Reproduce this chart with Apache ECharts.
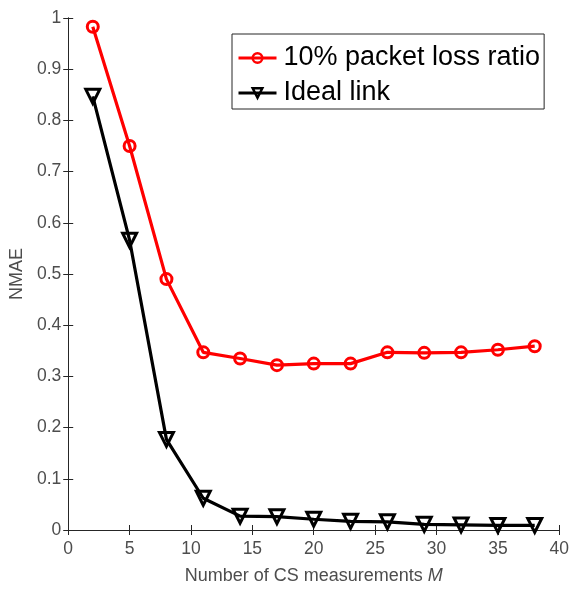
<!DOCTYPE html>
<html><head><meta charset="utf-8">
<script src="https://cdn.jsdelivr.net/npm/echarts@6/dist/echarts.min.js"></script>
<style>html,body{margin:0;padding:0;background:#fff}#c{width:572px;height:590px}</style>
</head><body><div id="c"></div>
<script>
const mValues = [2, 5, 8, 11, 14, 17, 20, 23, 26, 29, 32, 35, 38];
const loss10 = [0.983, 0.750, 0.490, 0.347, 0.335, 0.322, 0.325, 0.325, 0.347, 0.346, 0.347, 0.352, 0.359];
const ideal = [0.847, 0.566, 0.177, 0.062, 0.027, 0.026, 0.021, 0.017, 0.016, 0.011, 0.010, 0.009, 0.009];
const seriesNames = ['10% packet loss ratio', 'Ideal link'];
const xTicks = [0, 5, 10, 15, 20, 25, 30, 35, 40];

const font = 'Liberation Sans, Arial, sans-serif';
const gray = '#4d4d4d';
const chart = echarts.init(document.getElementById('c'));
const axisLine = {show: true, lineStyle: {color: '#262626', width: 1}};
const axisTick = {show: true, inside: true, length: 5, lineStyle: {color: '#262626'}};
chart.setOption({
  animation: false,
  backgroundColor: '#fff',
  grid: {left: 68, right: 8, top: 18, bottom: 55},
  legend: {
    data: seriesNames,
    orient: 'vertical',
    left: 232, top: 34,
    itemWidth: 38, itemHeight: 12, itemGap: 5,
    padding: [9, 4, 1, 5],
    borderColor: '#262626', borderWidth: 1,
    backgroundColor: '#fff',
    lineStyle: {width: 3},
    itemStyle: {borderWidth: 2.5},
    textStyle: {fontFamily: font, fontSize: 27, color: '#000', lineHeight: 30, padding: [0, 0, 0, 2]}
  },
  xAxis: [{
    type: 'value', min: 0, max: 40, interval: 5,
    axisLine: axisLine, axisTick: axisTick, splitLine: {show: false},
    axisLabel: {color: gray, fontFamily: font, fontSize: 17.5, margin: 10, customValues: xTicks},
    name: 'Number of CS measurements {i|M}', nameLocation: 'middle', nameGap: 37,
    nameTextStyle: {color: gray, fontFamily: font, fontSize: 18,
      rich: {i: {fontStyle: 'italic', color: gray, fontFamily: font, fontSize: 18}}}
  }, {
    type: 'value', position: 'top', min: 0, max: 40, interval: 5,
    axisLine: axisLine, axisTick: axisTick, axisLabel: {show: false}, splitLine: {show: false}
  }],
  yAxis: [{
    type: 'value', min: 0, max: 1, interval: 0.1,
    axisLine: axisLine, axisTick: axisTick, splitLine: {show: false},
    axisLabel: {color: gray, fontFamily: font, fontSize: 17.5, margin: 7,
      formatter: v => (Math.round(v * 10) / 10).toString()},
    name: 'NMAE', nameLocation: 'middle', nameGap: 34,
    nameTextStyle: {color: gray, fontFamily: font, fontSize: 18}
  }, {
    type: 'value', position: 'right', min: 0, max: 1, interval: 0.1,
    axisLine: axisLine, axisTick: axisTick, axisLabel: {show: false}, splitLine: {show: false}
  }],
  series: [{
    name: seriesNames[0], type: 'line',
    data: mValues.map((m, i) => [m, loss10[i]]),
    symbol: 'circle', symbolSize: 11,
    lineStyle: {color: '#ff0000', width: 3.2},
    itemStyle: {color: 'rgba(255,255,255,0)', borderColor: '#ff0000', borderWidth: 3},
    color: '#ff0000', z: 3
  }, {
    name: seriesNames[1], type: 'line',
    data: mValues.map((m, i) => [m, ideal[i]]),
    symbol: 'triangle', symbolSize: 14, symbolRotate: 180,
    lineStyle: {color: '#000', width: 3.2},
    itemStyle: {color: 'rgba(255,255,255,0)', borderColor: '#000', borderWidth: 3},
    color: '#000', z: 4
  }]
});
</script></body></html>
